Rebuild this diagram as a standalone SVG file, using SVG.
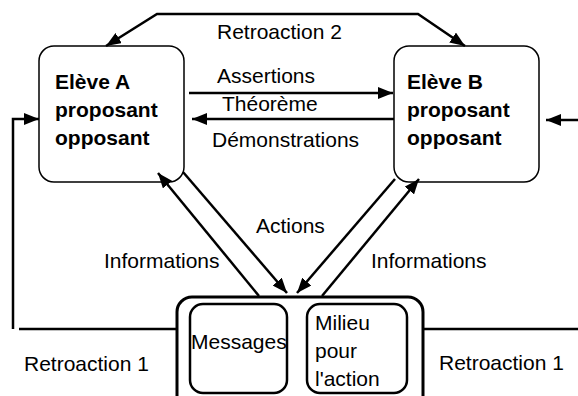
<svg xmlns="http://www.w3.org/2000/svg" width="578" height="396" viewBox="0 0 578 396">
<defs>
<style>
text{font-family:"Liberation Sans",Arial,sans-serif;font-size:21px;fill:#000}
.b{font-weight:bold}
.box{fill:#fff;stroke:#000;stroke-width:1.5}
.thick{fill:#fff;stroke:#000;stroke-width:3}
.inner{fill:#fff;stroke:#000;stroke-width:2.5}
.c{fill:none;stroke:#000;stroke-width:2.5}
</style>
<marker id="ah" markerUnits="userSpaceOnUse" markerWidth="16" markerHeight="12" refX="15" refY="6" orient="auto-start-reverse">
<path d="M0,0 L15,6 L0,12 Z" fill="#000"/>
</marker>
</defs>
<rect width="578" height="396" fill="#fff"/>
<g id="eleveA">
<rect class="box" x="39" y="46" width="145" height="136" rx="15"/>
<text class="b" x="55" y="89">Elève A</text>
<text class="b" x="55" y="117">proposant</text>
<text class="b" x="55" y="145">opposant</text>
</g>
<g id="eleveB">
<rect class="box" x="394" y="46" width="145" height="136" rx="15"/>
<text class="b" x="407" y="89">Elève B</text>
<text class="b" x="407" y="117">proposant</text>
<text class="b" x="407" y="145">opposant</text>
</g>
<g id="milieu">
<rect class="thick" x="177" y="297" width="246" height="130" rx="15"/>
<g id="messages">
<rect class="inner" x="190" y="304" width="97" height="89" rx="13"/>
<text x="191" y="349">Messages</text>
</g>
<g id="milieuAction">
<rect class="inner" x="307" y="304" width="100" height="89" rx="13"/>
<text x="315" y="330">Milieu</text>
<text x="315" y="358">pour</text>
<text x="315" y="386">l'action</text>
</g>
</g>
<g id="connectors">
<path class="c" d="M106,46 L157,14 L418,14 L465,46" marker-start="url(#ah)" marker-end="url(#ah)"/>
<path class="c" d="M189,93 H393" marker-end="url(#ah)"/>
<path class="c" d="M394,119 H192" marker-end="url(#ah)"/>
<path class="c" d="M13,329 V119 H39" marker-end="url(#ah)"/>
<path class="c" d="M578,120 H546" marker-end="url(#ah)"/>
<path class="c" d="M19,329 H177"/>
<path class="c" d="M423,329 H578"/>
<path class="c" d="M259,296 L158,173" marker-end="url(#ah)"/>
<path class="c" d="M183,172 L287,293" marker-end="url(#ah)"/>
<path class="c" d="M395,179 L297,293" marker-end="url(#ah)"/>
<path class="c" d="M322,296 L419,179" marker-end="url(#ah)"/>
</g>
<g id="labels">
<text x="217" y="39">Retroaction 2</text>
<text x="217" y="83">Assertions</text>
<text x="222" y="111">Théorème</text>
<text x="212" y="147">Démonstrations</text>
<text x="256" y="233">Actions</text>
<text x="104" y="268">Informations</text>
<text x="371" y="268">Informations</text>
<text x="24" y="371">Retroaction 1</text>
<text x="439" y="370">Retroaction 1</text>
</g>
</svg>
